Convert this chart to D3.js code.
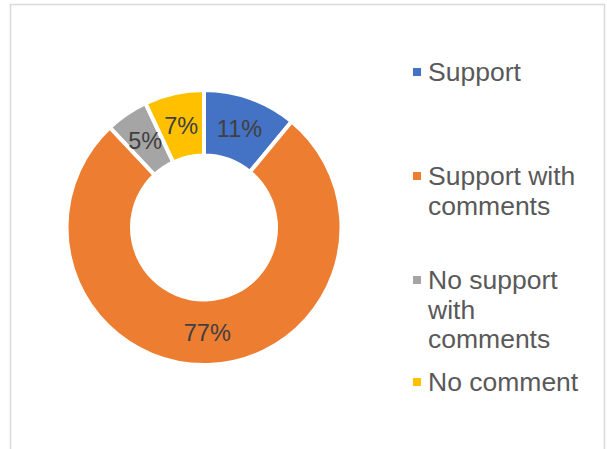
<!DOCTYPE html>
<html>
<head>
<meta charset="utf-8">
<script src="https://cdn.jsdelivr.net/npm/d3@7"></script>
<style>
  html, body { margin: 0; padding: 0; background: #fff; }
  svg { display: block; }
</style>
</head>
<body>
<svg id="chart" width="607" height="449"></svg>
<script>
// Survey responses (percent of respondents)
const categories = ["Support", "Support with comments", "No support with comments", "No comment"];
const values = [11, 77, 5, 7];
const colors = ["#4472C4", "#ED7D31", "#A5A5A5", "#FFC000"];
// Legend labels, wrapped as drawn
const legendLines = [["Support"], ["Support with", "comments"], ["No support", "with", "comments"], ["No comment"]];
const legendBaselines = [81, 185, 289, 391];

const svg = d3.select("#chart");

// Chart area frame
svg.append("rect")
  .attr("x", 10.5).attr("y", 4.5)
  .attr("width", 594).attr("height", 470)
  .attr("fill", "#fff")
  .attr("stroke", "#d9d9d9")
  .attr("stroke-width", 1.5);

const cx = 204, cy = 227.5;
const outerR = 137.5, innerR = 72;

const data = categories.map((c, i) => ({ name: c, value: values[i], color: colors[i] }));

const pie = d3.pie().value(d => d.value).sort(null);
const arc = d3.arc().innerRadius(innerR).outerRadius(outerR);
const labelArc = d3.arc().innerRadius((innerR + outerR) / 2).outerRadius((innerR + outerR) / 2);

const g = svg.append("g").attr("transform", `translate(${cx},${cy})`);
const arcs = pie(data);

g.selectAll("path.slice")
  .data(arcs)
  .join("path")
  .attr("class", "slice")
  .attr("d", arc)
  .attr("fill", d => d.data.color)
  .attr("stroke", "#fff")
  .attr("stroke-width", 4)
  .attr("stroke-linejoin", "miter");

g.selectAll("text.val")
  .data(arcs)
  .join("text")
  .attr("class", "val")
  .attr("transform", d => `translate(${labelArc.centroid(d)})`)
  .attr("text-anchor", "middle")
  .attr("dy", "0.36em")
  .attr("font-family", "'Liberation Sans', Arial, sans-serif")
  .attr("font-size", 23.5)
  .attr("fill", "#404040")
  .text(d => d3.format(".0%")(d.data.value / 100));

// Legend
const legend = svg.append("g");
data.forEach((d, i) => {
  const base = legendBaselines[i];
  legend.append("rect")
    .attr("x", 413).attr("y", base - 13)
    .attr("width", 8).attr("height", 8)
    .attr("fill", d.color);
  const t = legend.append("text")
    .attr("x", 428).attr("y", base)
    .attr("font-family", "'Liberation Sans', Arial, sans-serif")
    .attr("font-size", 26.5)
    .attr("fill", "#595959");
  legendLines[i].forEach((line, j) => {
    t.append("tspan").attr("x", 428).attr("y", base + j * 29.5).text(line);
  });
});
</script>
</body>
</html>
